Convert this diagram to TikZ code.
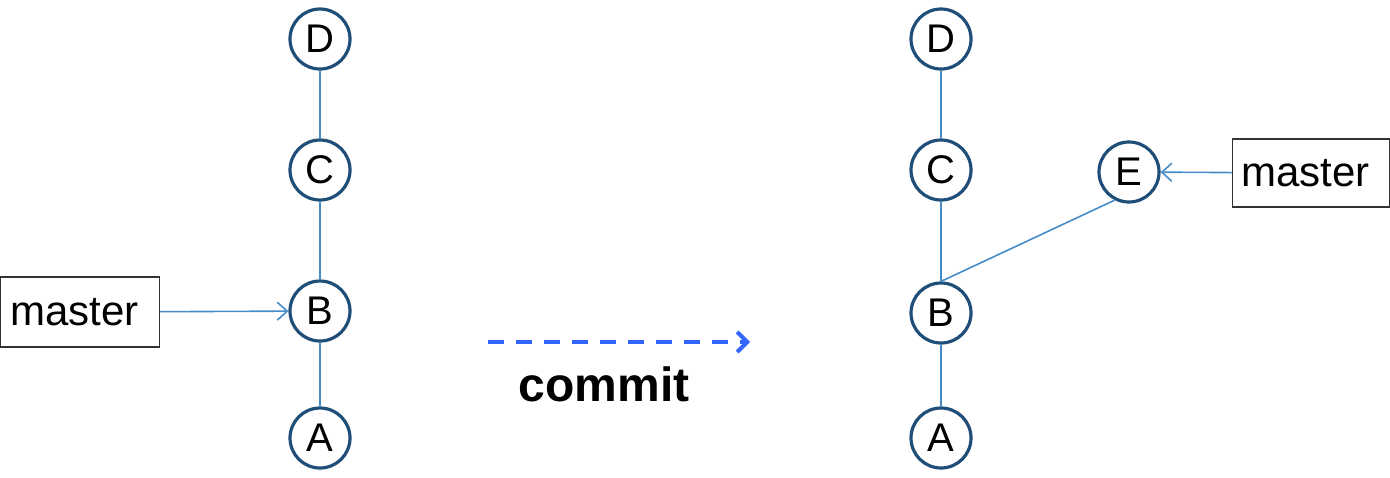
\documentclass[tikz,border=0pt]{standalone}
\usepackage{fontspec}
\setmainfont{Liberation Sans}
\usepackage{tikz}
\usetikzlibrary{arrows.meta}

\definecolor{ringblue}{RGB}{31,78,121}
\definecolor{edgeblue}{RGB}{70,140,200}
\definecolor{stepblue}{RGB}{51,102,255}

\tikzset{
	commit/.style={circle, draw=ringblue, line width=1.6pt, fill=white,
		minimum size=30pt, inner sep=0pt, font=\fontsize{20}{22}\selectfont},
	branch/.style={draw=black!80, line width=0.6pt, fill=white,
		text width=69.5pt, align=left, inner xsep=5pt, minimum height=35pt,
		font=\fontsize{21}{23}\selectfont},
	link/.style={edgeblue, line width=0.8pt},
	pointer/.style={link, -{Straight Barb[length=5pt,width=9pt]}}
}

\begin{document}
\begin{tikzpicture}[x=0.5pt, y=-0.5pt]
	\useasboundingbox (0,0) rectangle (1390,477);

% history before the commit
	\node[commit] (D) at (320,39) {D};
	\node[commit] (C) at (320,170) {C};
	\node[commit] (B) at (320,311) {B};
	\node[commit] (A) at (320,438) {A};
	\node[branch] (master) at (80,312) {master};

	\draw[link] (A) -- (B);
	\draw[link] (B) -- (C);
	\draw[link] (C) -- (D);
	\draw[pointer] (master) -- (B);

% the step in between
	\coordinate (go) at (488,342);
	\coordinate (done) at (750,342);
	\draw[stepblue, line width=2pt, dash pattern=on 8pt off 6pt,
		-{Straight Barb[length=5pt,width=10pt]}] (go) -- (done);
	\node[font=\fontsize{24}{26}\selectfont\bfseries] (step) at (604,384) {commit};

% history after the commit
	\node[commit] (D2) at (941,39) {D};
	\node[commit] (C2) at (941,170) {C};
	\node[commit] (B2) at (941,313) {B};
	\node[commit] (A2) at (941,438) {A};
	\node[commit] (E) at (1129,172) {E};
	\node[branch, text width=69.5pt, inner xsep=4.5pt, minimum height=34pt] (master2) at (1311,173) {master};

	\draw[link] (A2) -- (B2);
	\draw[link] (B2) -- (C2);
	\draw[link] (C2) -- (D2);
	\draw[link] (B2.north) -- (E.243);
	\draw[pointer] (master2) -- (E);

\end{tikzpicture}
\end{document}
